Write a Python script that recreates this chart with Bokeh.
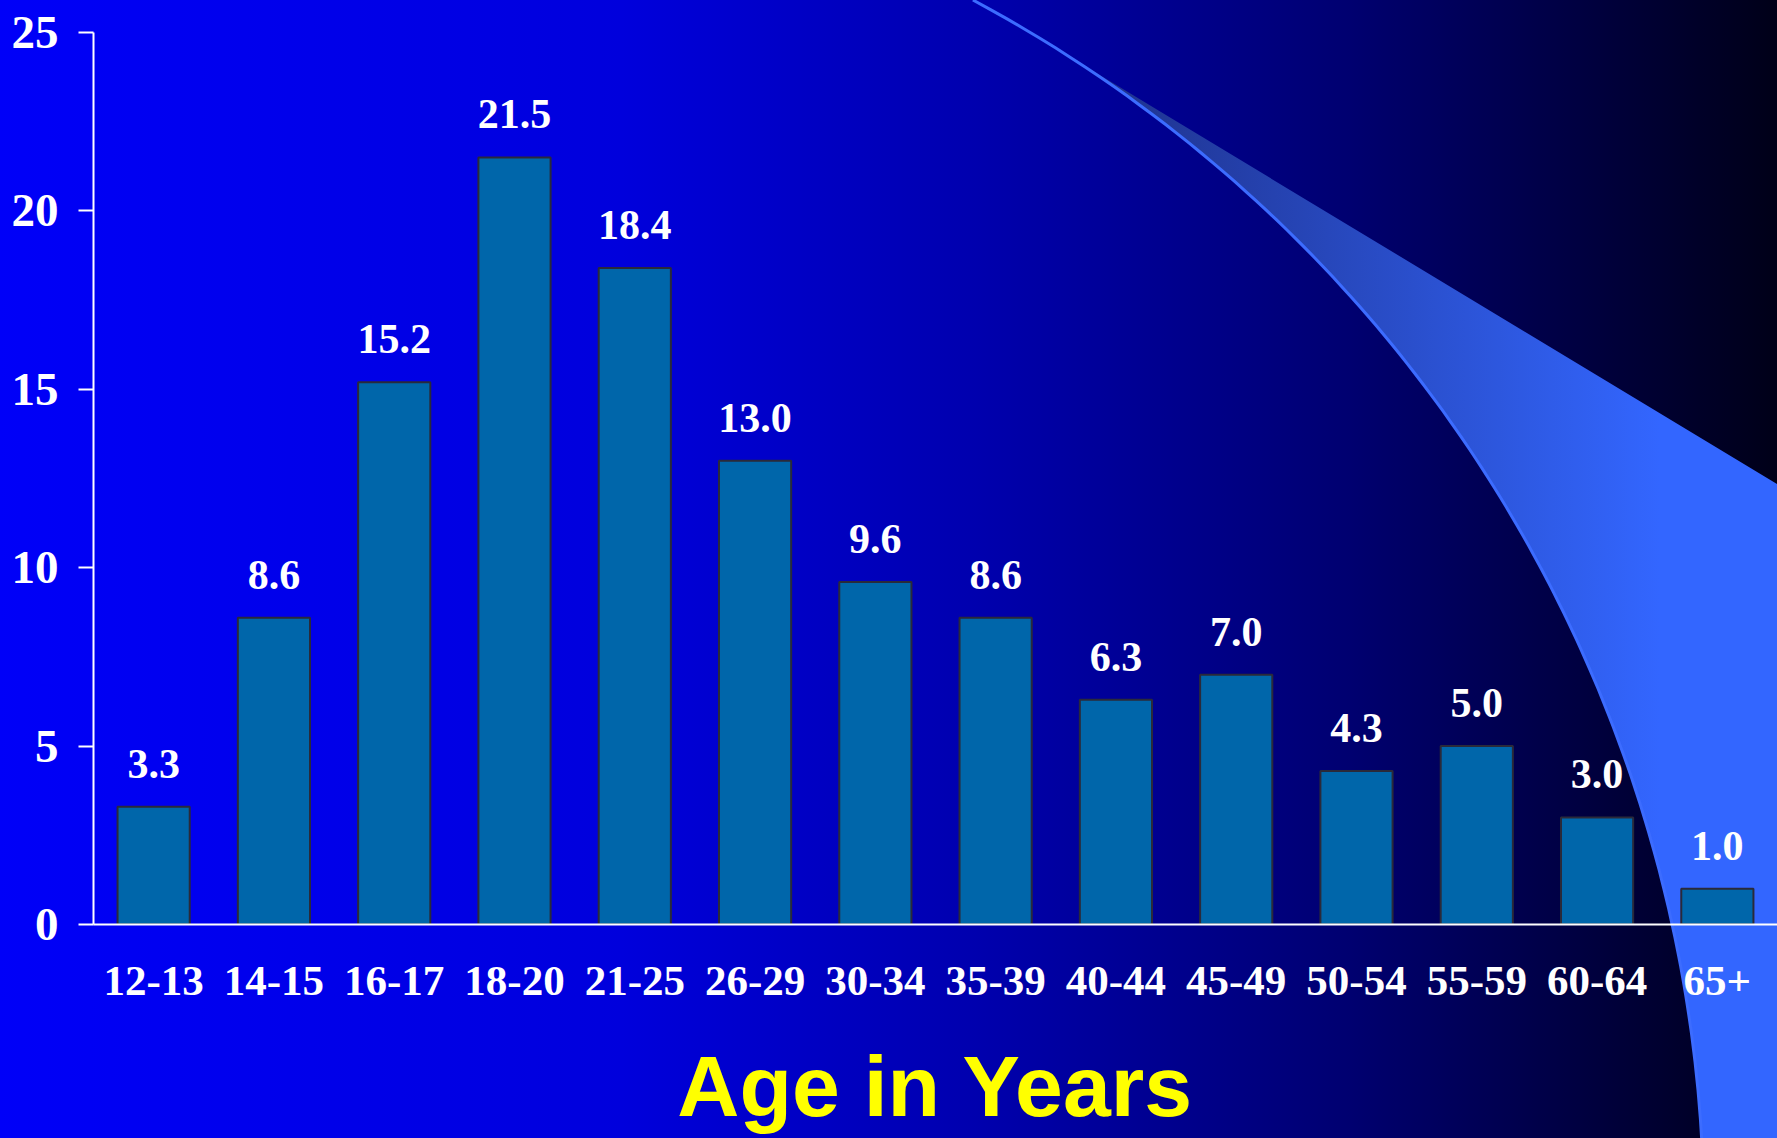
import base64
import numpy as np
from bokeh.plotting import figure
from bokeh.models import ColumnDataSource, LabelSet, FixedTicker, Range1d
from bokeh.embed import file_html
from bokeh.resources import INLINE

# ---- data ----
age_groups = ["12-13", "14-15", "16-17", "18-20", "21-25", "26-29", "30-34",
              "35-39", "40-44", "45-49", "50-54", "55-59", "60-64", "65+"]
percent = [3.3, 8.6, 15.2, 21.5, 18.4, 13.0, 9.6, 8.6, 6.3, 7.0, 4.3, 5.0, 3.0, 1.0]
y_ticks = [0, 5, 10, 15, 20, 25]
x_title = "Age in Years"

W, H = 1777, 1138

# ---- decorative background (gradient + swoosh) used as CSS background ----
# traced outline of the swoosh edge (page pixels); a circle is fitted through it
trace = np.array([(979, 0), (1083, 66), (1183, 143), (1283, 220), (1350, 297),
                  (1417, 383), (1467, 450), (1517, 530), (1558, 600), (1607, 700),
                  (1643, 800), (1673, 920), (1698, 1138)], dtype=float)
A = np.c_[trace[:, 0], trace[:, 1], np.ones(len(trace))]
bvec = trace[:, 0] ** 2 + trace[:, 1] ** 2
D, E, F = np.linalg.lstsq(A, bvec, rcond=None)[0]
cx, cy = D / 2, E / 2
R = np.sqrt(F + cx ** 2 + cy ** 2)


def circ_x(yy):
    return cx + np.sqrt(np.maximum(R ** 2 - (yy - cy) ** 2, 0))


ys = np.linspace(0, H, 120)
curve_pts = [(circ_x(v), v) for v in ys]
curve_d = "M " + " L ".join(f"{x:.1f} {y:.1f}" for x, y in curve_pts)

# upper straight edge of the swoosh
lx0, ly0, lx1, ly1 = 1083.0, 65.0, 1777.0, 484.0
slope = (ly1 - ly0) / (lx1 - lx0)
# find where the straight edge meets the curve
yy = np.linspace(0, 300, 3001)
diff = (ly0 + slope * (circ_x(yy) - lx0)) - yy
k = int(np.argmin(np.abs(diff)))
y_start = yy[k]
x_start = circ_x(y_start)
ys2 = np.linspace(H, y_start, 120)
wedge_d = (f"M {x_start:.1f} {y_start:.1f} L {lx1} {ly1} L {W} {H} "
           + " ".join(f"L {circ_x(v):.1f} {v:.1f}" for v in ys2) + " Z")

svg = f'''<svg xmlns="http://www.w3.org/2000/svg" width="{W}" height="{H}" viewBox="0 0 {W} {H}" preserveAspectRatio="none">
<defs>
<linearGradient id="bg" x1="0" y1="0" x2="{W}" y2="0" gradientUnits="userSpaceOnUse">
<stop offset="0" stop-color="#0000F8"/>
<stop offset="0.35" stop-color="#0000DC"/>
<stop offset="0.55" stop-color="#0000AE"/>
<stop offset="0.76" stop-color="#000070"/>
<stop offset="1" stop-color="#000018"/>
</linearGradient>
<linearGradient id="sw" x1="1080" y1="0" x2="1660" y2="0" gradientUnits="userSpaceOnUse">
<stop offset="0" stop-color="#1E3088"/>
<stop offset="1" stop-color="#3366FF"/>
</linearGradient>
</defs>
<rect x="0" y="0" width="{W}" height="{H}" fill="url(#bg)"/>
<path d="{wedge_d}" fill="url(#sw)"/>
<path d="{curve_d}" fill="none" stroke="#3C6CFF" stroke-width="3"/>
</svg>'''
bg_uri = "data:image/svg+xml;base64," + base64.b64encode(svg.encode()).decode()

# ---- figure ----
source = ColumnDataSource(dict(
    age=age_groups,
    pct=percent,
    lbl=[f"{v:.1f}" for v in percent],
))

p = figure(x_range=age_groups, y_range=Range1d(0, 25),
           frame_width=1684, frame_height=892,
           min_border_left=93, min_border_right=0, min_border_top=32, min_border_bottom=214,
           output_backend="svg", toolbar_location=None, tools="")
p.styles = {"background-image": f"url('{bg_uri}')",
            "background-size": "100% 100%",
            "background-repeat": "no-repeat"}
p.background_fill_alpha = 0
p.border_fill_alpha = 0
p.outline_line_color = None
p.xgrid.grid_line_color = None
p.ygrid.grid_line_color = None

p.vbar(x="age", top="pct", width=0.6, source=source,
       fill_color="#0066AA", line_color="#2A2A3A", line_width=2)

labels = LabelSet(x="age", y="pct", text="lbl", source=source,
                  y_offset=29, text_align="center", text_baseline="alphabetic",
                  text_color="white", text_font="Liberation Serif",
                  text_font_style="bold", text_font_size="42px")
p.add_layout(labels)

# y axis
p.yaxis.ticker = FixedTicker(ticks=y_ticks)
p.yaxis.minor_tick_line_color = None
p.yaxis.major_tick_out = 15
p.yaxis.major_tick_in = 0
p.yaxis.axis_line_color = "white"
p.yaxis.axis_line_width = 2
p.yaxis.major_tick_line_color = "white"
p.yaxis.major_tick_line_width = 2
p.yaxis.major_label_standoff = 20
p.yaxis.major_label_text_color = "white"
p.yaxis.major_label_text_font = "Liberation Serif"
p.yaxis.major_label_text_font_style = "bold"
p.yaxis.major_label_text_font_size = "47px"

# x axis
p.xaxis.major_tick_line_color = None
p.xaxis.major_tick_out = 0
p.xaxis.major_tick_in = 0
p.xaxis.axis_line_color = "white"
p.xaxis.axis_line_width = 2
p.xaxis.major_label_standoff = 42
p.xaxis.major_label_text_color = "white"
p.xaxis.major_label_text_font = "Liberation Serif"
p.xaxis.major_label_text_font_style = "bold"
p.xaxis.major_label_text_font_size = "43px"
p.xaxis.axis_label = x_title
p.xaxis.axis_label_text_color = "#FFFF00"
p.xaxis.axis_label_text_font = "Liberation Sans"
p.xaxis.axis_label_text_font_style = "bold"
p.xaxis.axis_label_text_font_size = "86px"
p.xaxis.axis_label_standoff = 40

open("out.html", "w").write(file_html(p, INLINE))
